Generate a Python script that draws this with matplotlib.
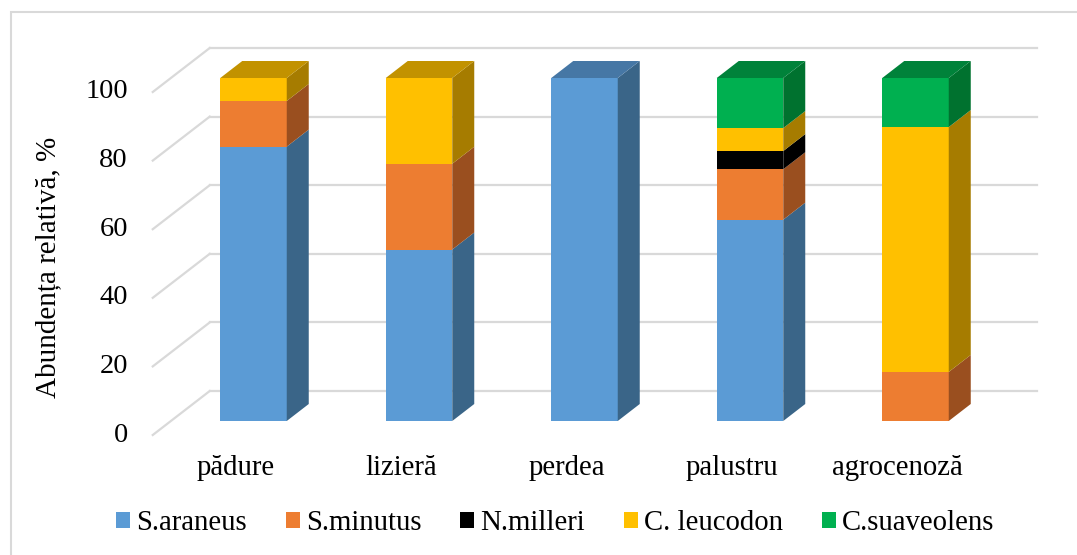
import matplotlib
matplotlib.use("Agg")
import matplotlib.pyplot as plt
from matplotlib.patches import Polygon, Rectangle, Patch
import numpy as np

plt.rcParams['font.family'] = ['Liberation Serif', 'DejaVu Serif']

categories = ["pădure", "lizieră", "perdea", "palustru", "agrocenoză"]
series_names = ["S.araneus", "S.minutus", "N.milleri", "C. leucodon", "C.suaveolens"]
s_araneus = [80.0, 50.0, 100.0, 58.7, 0.0]
s_minutus = [13.3, 25.0, 0.0, 14.7, 14.3]
n_milleri = [0.0, 0.0, 0.0, 5.3, 0.0]
c_leucodon = [6.7, 25.0, 0.0, 6.7, 71.4]
c_suaveolens = [0.0, 0.0, 0.0, 14.6, 14.3]
yticks = [0, 20, 40, 60, 80, 100]
ylabel = "Abundența relativă, %"

front_colors = ["#5B9BD5", "#ED7D31", "#000000", "#FFC000", "#00B050"]
side_colors = ["#3A6588", "#9A4F1F", "#000000", "#A67C00", "#00722F"]
top_colors = ["#4677A5", "#B8632A", "#000000", "#C29200", "#00823A"]

W, H = 1077, 555
fig = plt.figure(figsize=(W / 100, H / 100), dpi=100)

# axes: front plane of bars
x_left_px, x_right_px = 170.75, 998.25
y0_px, y100_px = 421, 78
ax = fig.add_axes([x_left_px / W, (H - y0_px) / H,
                   (x_right_px - x_left_px) / W, (y0_px - y100_px) / H])
ax.set_xlim(-0.5, 4.5)
ax.set_ylim(0, 100)
ax.axis("off")

px_x = (x_right_px - x_left_px) / 5.0      # pixels per category
px_y = (y0_px - y100_px) / 100.0           # pixels per unit

# depth offsets in data units
bar_dx, bar_dy = 22 / px_x, 17 / px_y
wall_dx, wall_dy = 39 / px_x, 30 / px_y
front_dx, front_dy = -18 / px_x, -14 / px_y

grid_c = "#D9D9D9"
# back wall gridlines and left-side diagonals
for t in yticks:
    ax.plot([-0.5 + wall_dx, 4.5 + wall_dx], [t + wall_dy, t + wall_dy],
            color=grid_c, lw=1.6, clip_on=False, zorder=1)
    ax.plot([-0.5 + front_dx, -0.5 + wall_dx], [t + front_dy, t + wall_dy],
            color=grid_c, lw=1.6, clip_on=False, zorder=1)
    ax.text(-0.5 + front_dx - 25 / px_x, t + front_dy, str(t),
            ha="right", va="center", fontsize=20.5, color="#000000")

# stacked 3D bars
data = [s_araneus, s_minutus, n_milleri, c_leucodon, c_suaveolens]
x = np.arange(len(categories))
bw = 66.5 / px_x
bottom = np.zeros(len(categories))
top_color_idx = [0] * len(categories)
for si, vals in enumerate(data):
    vals = np.array(vals)
    ax.bar(x, vals, bw, bottom=bottom, color=front_colors[si],
           edgecolor="none", zorder=3, clip_on=False)
    for i in range(len(categories)):
        if vals[i] > 0:
            xr = x[i] + bw / 2
            y0, y1 = bottom[i], bottom[i] + vals[i]
            poly = Polygon([(xr, y0), (xr + bar_dx, y0 + bar_dy),
                            (xr + bar_dx, y1 + bar_dy), (xr, y1)],
                           closed=True, facecolor=side_colors[si],
                           edgecolor="none", zorder=3, clip_on=False)
            ax.add_patch(poly)
            top_color_idx[i] = si
    bottom = bottom + vals

for i in range(len(categories)):
    xl, xr = x[i] - bw / 2, x[i] + bw / 2
    yt = bottom[i]
    poly = Polygon([(xl, yt), (xr, yt), (xr + bar_dx, yt + bar_dy),
                    (xl + bar_dx, yt + bar_dy)], closed=True,
                   facecolor=top_colors[top_color_idx[i]], edgecolor="none",
                   zorder=3, clip_on=False)
    ax.add_patch(poly)

# category labels
for i, c in enumerate(categories):
    ax.text(x[i] + front_dx, (y0_px - 468) / px_y, c, ha="center", va="center",
            fontsize=20.7, color="#000000")

# y label
fig.text(48 / W, (H - 267) / H, ylabel, rotation=90, ha="center", va="center",
         fontsize=21, color="#000000")

# legend
handles = [Patch(facecolor=front_colors[i], edgecolor="none") for i in range(5)]
fig.legend(handles, series_names, loc="center", bbox_to_anchor=(555 / W, (H - 523) / H),
           ncol=5, frameon=False, fontsize=20.7, handlelength=0.49, handleheight=0.49,
           handletextpad=0.21, columnspacing=1.35, borderpad=0, borderaxespad=0)

# chart border
fig.patches.append(Rectangle((11 / W, -0.05), 1.2, (H - 12) / H + 0.05,
                             transform=fig.transFigure, fill=False,
                             edgecolor="#D9D9D9", lw=1.5))

fig.savefig("out.png", dpi=100)
